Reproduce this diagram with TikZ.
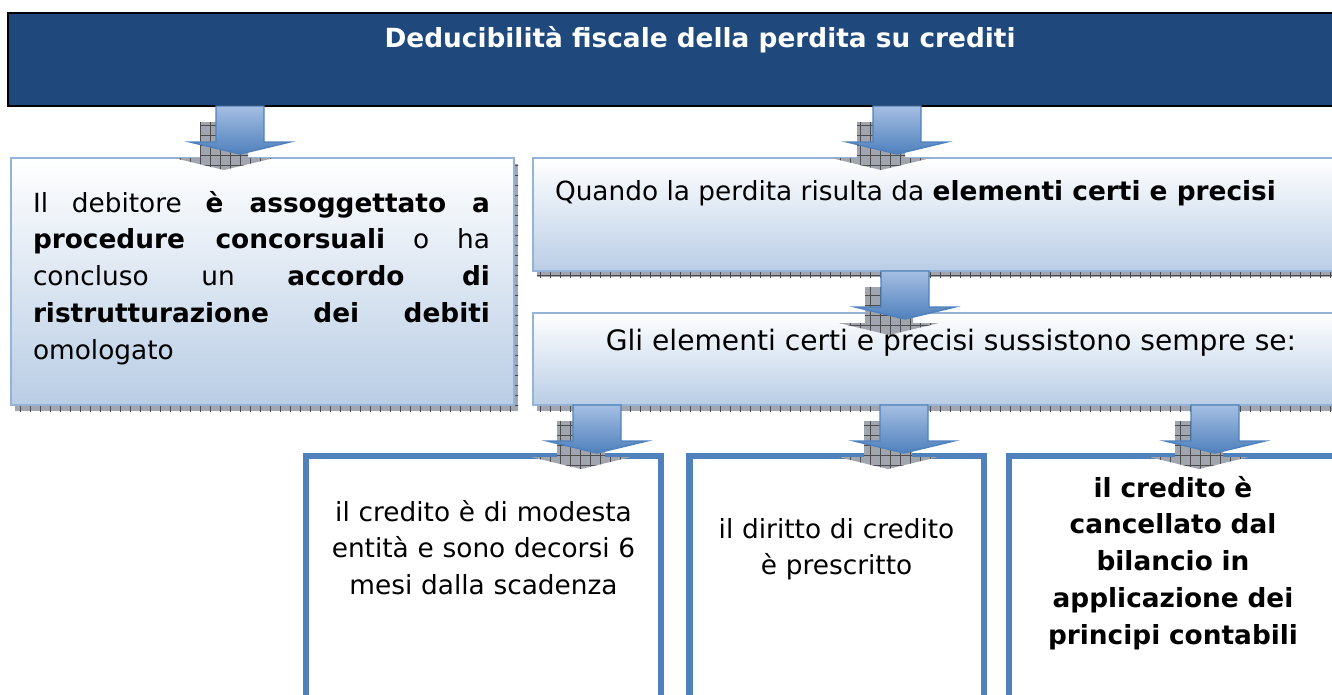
\documentclass[tikz,border=0pt]{standalone}
\usepackage{fontspec}
\setmainfont{DejaVu Sans}
\usetikzlibrary{calc, shadows, patterns.meta}

\definecolor{titleblue}{RGB}{31,73,125}
\definecolor{caseblue}{RGB}{79,129,189}
\definecolor{paleblue}{RGB}{185,205,229}
\definecolor{edgeblue}{RGB}{149,179,215}
\definecolor{arrowtop}{RGB}{165,190,226}
\definecolor{shadowgray}{RGB}{160,165,176}

\tikzset{
    pics/downarrow/.style={code={
        % shadow first, then the arrow on top
        \fill[arrowshade] (-40,16) -- (8,16) -- (8,52) -- (34,52) -- (-16,64) -- (-66,52) -- (-40,52) -- cycle;
        \draw[arrowbody] (-24,0) -- (24,0) -- (24,36) -- (50,36) -- (0,48) -- (-50,36) -- (-24,36) -- cycle;
    }}
}

\begin{document}
\begin{tikzpicture}[
        x=0.2mm, y=-0.2mm,
        every node/.style={inner sep=0pt, outer sep=0pt},
        titlebox/.style={draw=black, line width=1pt, fill=titleblue, anchor=north west},
        softbox/.style={draw=edgeblue, line width=1.2pt, top color=white, bottom color=paleblue, anchor=north west,
            general shadow={shadow xshift=0.8mm, shadow yshift=-1.2mm, fill=shadowgray},
            general shadow={shadow xshift=0.8mm, shadow yshift=-1.2mm, pattern={Hatch[distance=2mm, line width=0.3pt]}, pattern color=black!70}},
        casebox/.style={draw=caseblue, line width=3.7pt, fill=white, anchor=north west},
        arrowshade/.style={fill=shadowgray, postaction={pattern={Hatch[distance=2mm, line width=0.3pt]}, pattern color=black!70}},
        arrowbody/.style={draw=caseblue, line width=0.8pt, top color=arrowtop, bottom color=caseblue},
        bodytext/.style={font=\fontsize{15}{21}\selectfont, anchor=base}]

    \useasboundingbox (0,0) rectangle (1332,695);
    \clip (0,0) rectangle (1332,695);

    % boxes
    \node[titlebox, minimum width=276.8mm, minimum height=18.6mm] (title) at (8,13) {};
    \node[softbox, minimum width=100.6mm, minimum height=49.4mm] (debtor) at (11,158) {};
    \node[softbox, minimum width=167.2mm, minimum height=22.6mm] (certain) at (533,158) {};
    \node[softbox, minimum width=167.2mm, minimum height=18.4mm] (always) at (533,313) {};
    \node[casebox, minimum width=71mm, minimum height=52.8mm] (case1) at (306,456) {};
    \node[casebox, minimum width=58.9mm, minimum height=52.8mm] (case2) at (689.5,456) {};
    \node[casebox, minimum width=65.6mm, minimum height=52.8mm] (case3) at (1009,456) {};

    % arrows
    \pic at ($(title.south west)+(232,0)$) {downarrow};
    \pic at ($(title.south west)+(889,0)$) {downarrow};
    \pic at ($(certain.south west)+(372,0)$) {downarrow};
    \pic at ($(always.south west)+(64,0)$) {downarrow};
    \pic at ($(always.south west)+(371,0)$) {downarrow};
    \pic at ($(always.south west)+(682,0)$) {downarrow};

    % texts
    \node[bodytext, text=white, font=\fontsize{15}{21}\selectfont\bfseries] (titletext) at (700,47) {Deducibilità fiscale della perdita su crediti};
    \node[bodytext, anchor=base west, text width=91.4mm, align=justify] (debtortext) at (33,212)
        {Il debitore \textbf{è assoggettato a}\linebreak \textbf{procedure concorsuali} o ha\linebreak concluso un \textbf{accordo di}\linebreak \textbf{ristrutturazione dei debiti}\linebreak omologato};
    \node[bodytext, anchor=base west] (certaintext) at (555,200) {Quando la perdita risulta da \textbf{elementi certi e precisi}};
    \node[bodytext, font=\fontsize{16}{21}\selectfont] (alwaystext) at (951,350) {Gli elementi certi e precisi sussistono sempre se:};
    \node[bodytext, text width=66mm, align=center] (case1text) at (483.5,521) {il credito è di modesta\\entità e sono decorsi 6\\mesi dalla scadenza};
    \node[bodytext, text width=56mm, align=center] (case2text) at (836.5,538) {il diritto di credito\\è prescritto};
    \node[bodytext, text width=62mm, align=center, font=\fontsize{15}{21}\selectfont\bfseries] (case3text) at (1173,497)
        {il credito è\\cancellato dal\\bilancio in\\applicazione dei\\principi contabili};
\end{tikzpicture}
\end{document}
